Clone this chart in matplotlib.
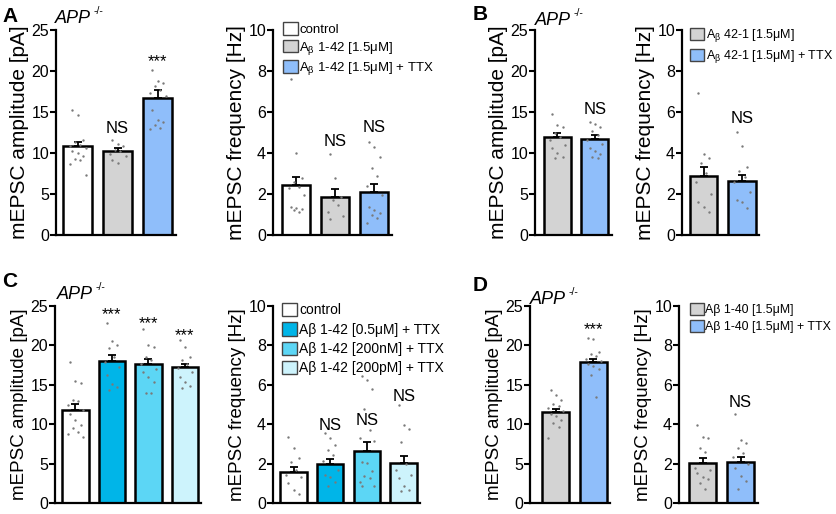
import matplotlib.pyplot as plt

plt.rcParams['font.family'] = ['Liberation Sans', 'DejaVu Sans']
plt.rcParams['mathtext.fontset'] = 'custom'
plt.rcParams['mathtext.rm'] = 'Liberation Sans'

# colours
WHITE = '#ffffff'
GRAY = '#d3d3d3'
BLUE = '#8fbefa'
CYAN1 = '#00b5e8'
CYAN2 = '#5cd6f5'
CYAN3 = '#cdf3fc'

SMALL_B = r'A$_{\mathregular{β}}$'

# ---- panel A ----
a_labels = ['control', SMALL_B + ' 1-42 [1.5μM]', SMALL_B + ' 1-42 [1.5μM] + TTX']
a_colors = [WHITE, GRAY, BLUE]
a_amp_mean = [10.9, 10.2, 16.7]
a_amp_sem = [0.5, 0.4, 1.0]
a_amp_pts = [
    [15.2, 14.6, 11.6, 11.3, 11.0, 10.9, 10.6, 10.2, 10.0, 9.6, 9.3, 9.1, 8.7, 7.3],
    [11.6, 11.1, 10.8, 10.4, 10.2, 9.9, 9.6, 9.1, 8.8],
    [20.1, 18.8, 18.5, 18.2, 17.7, 17.3, 16.9, 15.2, 14.0, 13.8, 13.4, 13.1, 12.9],
]
a_amp_stats = [(1, 'NS', 12.4), (2, '***', 20.6)]
a_freq_mean = [2.44, 1.84, 2.08]
a_freq_sem = [0.41, 0.39, 0.41]
a_freq_pts = [
    [7.6, 4.0, 2.76, 2.6, 2.36, 2.28, 1.95, 1.38, 1.3, 1.25, 1.22, 1.14],
    [3.95, 2.76, 1.87, 1.7, 1.46, 1.14, 0.93, 0.76],
    [4.55, 4.3, 3.8, 3.25, 2.9, 2.4, 1.95, 1.35, 1.22, 1.09, 0.98, 0.81, 0.6],
]
a_freq_stats = [(1, 'NS', 4.36), (2, 'NS', 5.0)]

# ---- panel B ----
b_labels = [SMALL_B + ' 42-1 [1.5μM]', SMALL_B + ' 42-1 [1.5μM] + TTX']
b_colors = [GRAY, BLUE]
b_amp_mean = [11.9, 11.7]
b_amp_sem = [0.5, 0.5]
b_amp_pts = [
    [14.8, 13.4, 13.2, 12.4, 11.9, 11.6, 11.0, 10.6, 10.0, 9.55, 9.35],
    [13.8, 13.5, 13.2, 12.7, 12.2, 11.6, 11.1, 10.6, 10.2, 9.9, 9.55, 9.35],
]
b_amp_stats = [(1, 'NS', 14.8)]
b_freq_mean = [2.9, 2.63]
b_freq_sem = [0.4, 0.3]
b_freq_pts = [
    [6.95, 3.95, 3.75, 3.5, 3.0, 2.6, 2.0, 1.6, 1.38, 1.14],
    [5.0, 4.35, 3.33, 3.1, 2.85, 2.6, 2.1, 1.7, 1.6, 1.3],
]
b_freq_stats = [(1, 'NS', 5.45)]

# ---- panel C ----
c_labels = ['control', 'Aβ 1-42 [0.5μM] + TTX', 'Aβ 1-42 [200nM] + TTX', 'Aβ 1-42 [200pM] + TTX']
c_colors = [WHITE, CYAN1, CYAN2, CYAN3]
c_amp_mean = [11.85, 18.0, 17.65, 17.2]
c_amp_sem = [0.75, 0.8, 0.6, 0.5]
c_amp_pts = [
    [17.9, 15.5, 15.2, 13.1, 12.9, 12.4, 11.8, 11.3, 10.5, 9.9, 9.5, 9.0, 8.8, 8.4],
    [22.9, 20.6, 20.1, 19.7, 18.5, 17.9, 17.2, 16.2, 15.1, 14.7, 14.4],
    [22.1, 20.1, 19.8, 18.5, 18.1, 17.6, 17.0, 16.6, 16.0, 15.3, 13.9, 13.9],
    [20.7, 19.8, 18.5, 18.1, 17.6, 17.1, 16.6, 16.0, 15.3, 14.9, 14.6],
]
c_amp_stats = [(1, '***', 23.3), (2, '***', 22.2), (3, '***', 20.7)]
c_freq_mean = [1.56, 1.97, 2.66, 2.02]
c_freq_sem = [0.26, 0.25, 0.42, 0.37]
c_freq_pts = [
    [3.36, 2.77, 2.27, 2.1, 1.68, 1.43, 1.31, 1.04, 0.67, 0.47],
    [3.56, 3.28, 2.94, 2.69, 2.44, 2.15, 1.68, 1.43, 1.34, 1.09, 0.84],
    [6.47, 6.22, 5.8, 4.79, 3.73, 3.28, 3.16, 2.1, 2.02, 1.6, 1.38, 1.26, 1.09, 0.87, 0.84],
    [4.96, 3.95, 3.78, 3.1, 2.0, 1.68, 1.43, 1.26, 0.84, 0.67, 0.59],
]
c_freq_stats = [(1, 'NS', 3.73), (2, 'NS', 3.95), (3, 'NS', 5.18)]

# ---- panel D ----
d_labels = ['Aβ 1-40 [1.5μM]', 'Aβ 1-40 [1.5μM] + TTX']
d_colors = [GRAY, BLUE]
d_amp_mean = [11.55, 17.85]
d_amp_sem = [0.4, 0.4]
d_amp_pts = [
    [14.4, 13.7, 13.1, 12.6, 12.3, 12.0, 11.7, 11.3, 11.0, 10.5, 10.1, 9.7, 8.2],
    [21.0, 20.8, 19.2, 18.9, 18.6, 18.3, 18.0, 17.7, 17.4, 17.0, 16.2, 13.5],
]
d_amp_stats = [(1, '***', 21.4)]
d_freq_mean = [2.02, 2.1]
d_freq_sem = [0.25, 0.25]
d_freq_pts = [
    [3.95, 3.36, 3.28, 2.77, 2.6, 1.76, 1.68, 1.51, 1.34, 1.21, 1.01, 0.71],
    [4.5, 3.19, 3.03, 2.77, 2.52, 2.35, 2.0, 1.76, 1.38, 1.14, 0.71],
]
d_freq_stats = [(1, 'NS', 4.87)]

W, H = 837, 514
fig = plt.figure(figsize=(W / 100, H / 100), dpi=100)

JIT = [-0.14, 0.0, 0.14, -0.07, 0.07, -0.2, 0.2]


def panel(left, top, bottom, unit, xlo, means, sems, pts, colors, ymax, ystep, ylabel, stats, lfs=15):
    n = len(means)
    xhi = n - 0.55
    right = left + (xhi - xlo) * unit
    ax = fig.add_axes([left / W, 1 - bottom / H, (right - left) / W, (bottom - top) / H])
    xs = list(range(n))
    ax.bar(xs, means, width=0.72, color=colors, edgecolor='black', linewidth=1.8, zorder=2)
    ax.errorbar(xs, means, yerr=[[0] * n, sems], fmt='none', ecolor='black',
                elinewidth=1.3, capsize=3, capthick=1.3, zorder=3)
    for i, vals in enumerate(pts):
        dx = [i + JIT[k % len(JIT)] for k in range(len(vals))]
        ax.scatter(dx, vals, s=3, color='#7a7a7a', zorder=4, linewidths=0)
    for i, txt, y in stats:
        ax.text(i, y, txt, ha='center', va='baseline', fontsize=12)
    ax.set_xlim(xlo, xhi)
    ax.set_ylim(0, ymax)
    ax.set_yticks(range(0, ymax + 1, ystep))
    ax.set_xticks([])
    for s in ['top', 'right']:
        ax.spines[s].set_visible(False)
    for s in ['left', 'bottom']:
        ax.spines[s].set_linewidth(1.6)
    ax.tick_params(axis='y', length=4, width=1.5, pad=1, labelsize=11.5)
    ax.set_ylabel(ylabel, fontsize=lfs, labelpad=2)
    return ax


def legend(ax, labels, colors, x, y, fs, sp):
    from matplotlib.patches import Patch
    handles = [Patch(facecolor=c, edgecolor='#444444', linewidth=1) for c in colors]
    ax.legend(handles, labels, loc='upper left', bbox_to_anchor=(x / W, 1 - y / H),
              bbox_transform=fig.transFigure, frameon=False, fontsize=fs,
              borderpad=0, borderaxespad=0, handletextpad=0.15, handlelength=1.1,
              handleheight=1.1, labelspacing=sp)


AMP = 'mEPSC amplitude [pA]'
FREQ = 'mEPSC frequency [Hz]'

# top row
panel(56, 30, 235, 40, -0.54, a_amp_mean, a_amp_sem, a_amp_pts, a_colors, 25, 5, AMP, a_amp_stats)
ax = panel(273, 30, 235, 39, -0.6, a_freq_mean, a_freq_sem, a_freq_pts, a_colors, 10, 2, FREQ, a_freq_stats)
legend(ax, a_labels, a_colors, 283, 22, 9.5, 0.28)
panel(535, 30, 235, 37.5, -0.6, b_amp_mean, b_amp_sem, b_amp_pts, b_colors, 25, 5, AMP, b_amp_stats)
ax = panel(682, 30, 235, 38.5, -0.56, b_freq_mean, b_freq_sem, b_freq_pts, b_colors, 10, 2, FREQ, b_freq_stats)
legend(ax, b_labels, b_colors, 690, 27, 9.0, 0.32)

# bottom row
BT, BB = 306, 503
panel(55, BT, BB, 36.5, -0.56, c_amp_mean, c_amp_sem, c_amp_pts, c_colors, 25, 5, AMP, c_amp_stats, 13.5)
ax = panel(273, BT, BB, 36.7, -0.56, c_freq_mean, c_freq_sem, c_freq_pts, c_colors, 10, 2, FREQ, c_freq_stats, 13.5)
legend(ax, c_labels, c_colors, 282, 303, 10, 0.35)
panel(530, BT, BB, 37.5, -0.69, d_amp_mean, d_amp_sem, d_amp_pts, d_colors, 25, 5, AMP, d_amp_stats, 13.5)
ax = panel(679, BT, BB, 38, -0.62, d_freq_mean, d_freq_sem, d_freq_pts, d_colors, 10, 2, FREQ, d_freq_stats, 13.5)
legend(ax, d_labels, d_colors, 690, 303, 8.9, 0.32)

# panel letters and genotype labels
for letter, x, y in [('A', 2, 22), ('B', 473, 20), ('C', 2, 287), ('D', 473, 291)]:
    fig.text(x / W, 1 - y / H, letter, fontsize=15, fontweight='bold', va='baseline')

for x, y in [(55, 23), (535, 25), (57, 299), (530, 304)]:
    fig.text(x / W, 1 - y / H, 'APP', fontsize=13, style='italic', va='baseline')
    fig.text((x + 39) / W, 1 - (y - 9) / H, '-/-', fontsize=7.5, va='baseline')

fig.savefig('out.png', dpi=100)
